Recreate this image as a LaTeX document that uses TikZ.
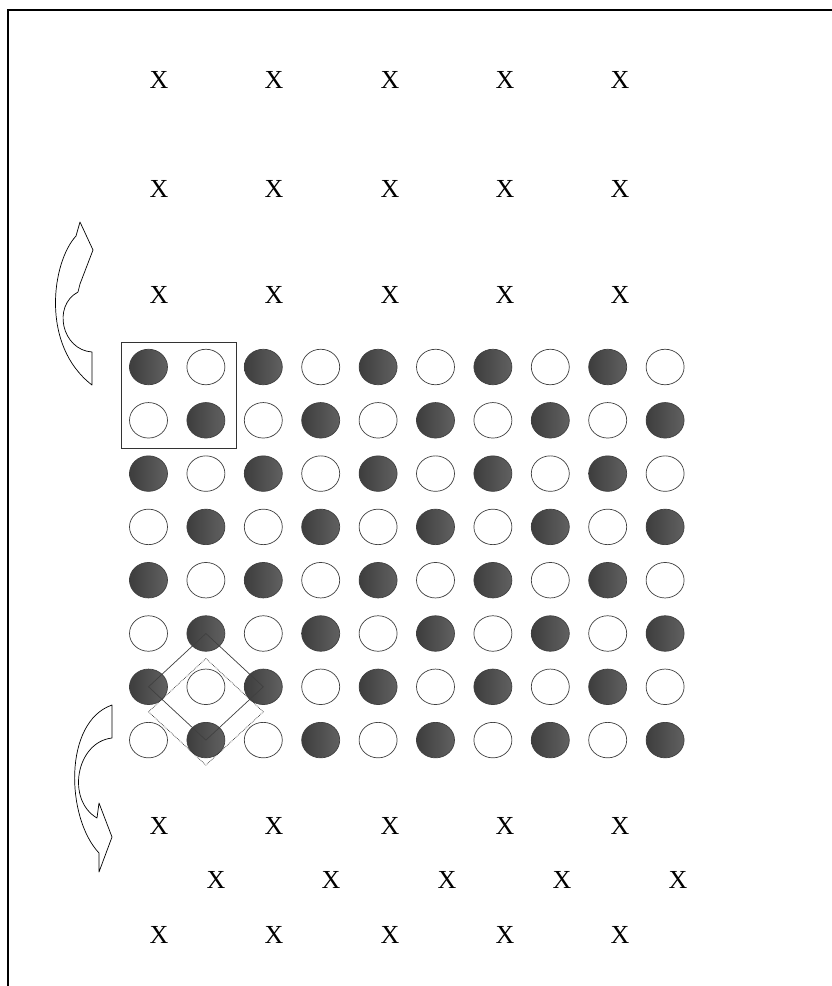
\documentclass[tikz,border=0pt]{standalone}
\usepackage{fontspec}
\setmainfont{Liberation Serif}
\usetikzlibrary{shapes.geometric}
\begin{document}
\begin{tikzpicture}[x=1pt,y=-1pt,
  dot/.style={ellipse, minimum width=38pt, minimum height=35.5pt, inner sep=0pt, draw=black!75, line width=0.7pt},
  st0/.style={dot, left color=black!76, right color=black!62},
  st1/.style={dot, fill=white},
  xmark/.style={font=\fontsize{26}{26}\selectfont, inner sep=0pt, text=black},
  frameline/.style={line width=1.6pt, black},
  boxline/.style={draw=black!80, line width=0.8pt},
  diam/.style={black!75, line width=0.7pt},
  diamdot/.style={black!80, line width=0.7pt, densely dotted},
  curvearrow/.style={draw=black, fill=white, line width=0.7pt, line join=round}
]
\useasboundingbox (0,0) rectangle (832,986);
\fill[white] (0,0) rectangle (832,986);
% frame
\coordinate (fbl) at (8,986);
\coordinate (ftl) at (8,10);
\coordinate (ftr) at (832,10);
\draw[frameline] (fbl) -- (ftl) -- (ftr);

% X marks
\foreach \y [count=\i] in {80,189,295}
  \foreach \x [count=\j] in {159,274,390,505,620}
    \node[xmark] (xt-\i-\j) at (\x,\y) {X};
\foreach \x [count=\j] in {159,274,390,505,620} {
  \node[xmark] (xb-1-\j) at (\x,826) {X};
  \node[xmark] (xb-3-\j) at (\x,935) {X};
}
\foreach \x [count=\j] in {216,331,447,562,678}
  \node[xmark] (xb-2-\j) at (\x,880) {X};

% circles
\foreach \r in {1,...,8}
  \foreach \c in {1,...,10} {
    \pgfmathtruncatemacro\pp{mod(\r+\c,2)}
    \node[st\pp] (c-\r-\c) at ({148.5+57.4*(\c-1)}, {367+53.3*(\r-1)}) {};
  }

% box around top-left cell
\node[boxline, minimum width=115pt, minimum height=106pt, inner sep=0pt] (box) at (178.5,395) {};

% diamonds
\draw[diam] (c-6-2.center) -- (c-7-1.center) -- (c-8-2.center) -- (c-7-3.center) -- cycle;
\draw[diamdot] ([yshift=-25pt]c-6-2.center) -- ([yshift=-25pt]c-7-1.center) -- ([yshift=-25pt]c-8-2.center) -- ([yshift=-25pt]c-7-3.center) -- cycle;

% curved arrows
\draw[curvearrow] (92,352) .. controls (62,350) and (52,306) .. (78,292) -- (80,284) -- (93,250) -- (80,222)
  -- (76,236) .. controls (52,262) and (40,345) .. (92,385) -- cycle;
\draw[curvearrow] (112,705) -- (112,738) .. controls (76,742) and (66,800) .. (97,818) -- (99,803) -- (112,837) -- (99,872)
  -- (99,853) .. controls (66,818) and (63,722) .. (112,705) -- cycle;
\end{tikzpicture}
\end{document}
